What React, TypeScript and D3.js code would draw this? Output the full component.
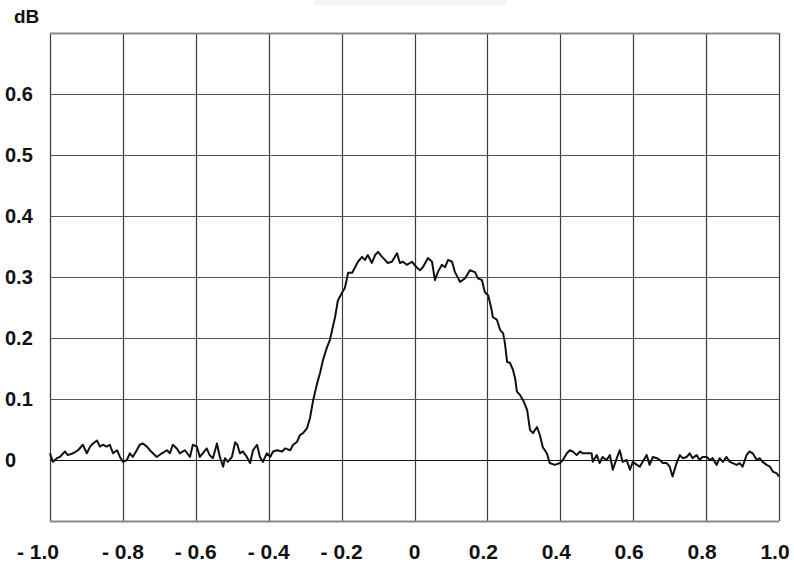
import React from "react";
import * as d3 from "d3";

// Normalised position along the scan (-1 … 1)
const positions = [
  -1.0, -0.992, -0.981, -0.973, -0.959, -0.951, -0.937, -0.923, -0.91, -0.899,
  -0.89, -0.882, -0.871, -0.863, -0.855, -0.844, -0.836, -0.827, -0.816, -0.808,
  -0.8, -0.789, -0.781, -0.773, -0.762, -0.754, -0.745, -0.734, -0.726, -0.707,
  -0.693, -0.679, -0.671, -0.663, -0.652, -0.644, -0.63, -0.616, -0.608, -0.597,
  -0.589, -0.581, -0.57, -0.562, -0.553, -0.542, -0.534, -0.525, -0.52, -0.512,
  -0.501, -0.492, -0.486, -0.479, -0.471, -0.46, -0.451, -0.443, -0.432, -0.424,
  -0.416, -0.405, -0.396, -0.388, -0.377, -0.363, -0.355, -0.341, -0.333, -0.322,
  -0.314, -0.306, -0.295, -0.287, -0.278, -0.267, -0.259, -0.251, -0.24, -0.232,
  -0.226, -0.218, -0.21, -0.199, -0.191, -0.182, -0.171, -0.163, -0.155, -0.144,
  -0.136, -0.128, -0.117, -0.108, -0.1, -0.089, -0.081, -0.073, -0.062, -0.048,
  -0.04, -0.032, -0.021, -0.007, 0.007, 0.015, 0.023, 0.037, 0.048, 0.056,
  0.064, 0.075, 0.084, 0.092, 0.103, 0.111, 0.125, 0.139, 0.152, 0.166,
  0.174, 0.185, 0.193, 0.202, 0.21, 0.215, 0.226, 0.235, 0.243, 0.248,
  0.254, 0.262, 0.27, 0.276, 0.281, 0.289, 0.298, 0.309, 0.317, 0.325,
  0.336, 0.344, 0.352, 0.363, 0.371, 0.385, 0.399, 0.407, 0.418, 0.426,
  0.434, 0.445, 0.454, 0.462, 0.475, 0.486, 0.489, 0.5, 0.508, 0.516,
  0.527, 0.536, 0.544, 0.555, 0.563, 0.571, 0.582, 0.591, 0.599, 0.61,
  0.618, 0.626, 0.637, 0.645, 0.654, 0.665, 0.673, 0.681, 0.692, 0.7,
  0.708, 0.719, 0.728, 0.736, 0.747, 0.755, 0.763, 0.774, 0.782, 0.79,
  0.802, 0.81, 0.818, 0.829, 0.837, 0.846, 0.856, 0.865, 0.873, 0.884,
  0.892, 0.9, 0.911, 0.919, 0.928, 0.939, 0.947, 0.955, 0.966, 0.975,
  0.983, 0.994, 1.0,
];

// Measured level in dB at each position
const levels = [
  0.011, -0.003, 0.003, 0.005, 0.014, 0.008, 0.011, 0.016, 0.025, 0.011,
  0.022, 0.027, 0.032, 0.022, 0.025, 0.022, 0.025, 0.011, 0.016, 0.005,
  -0.003, 0.0, 0.011, 0.005, 0.016, 0.025, 0.027, 0.022, 0.016, 0.005,
  0.011, 0.016, 0.011, 0.025, 0.019, 0.011, 0.016, 0.005, 0.025, 0.022,
  0.005, 0.011, 0.019, 0.008, 0.003, 0.027, 0.005, -0.011, 0.003, -0.003,
  0.005, 0.029, 0.025, 0.011, 0.014, 0.005, -0.005, 0.016, 0.025, 0.005,
  -0.003, 0.011, 0.005, 0.014, 0.016, 0.014, 0.019, 0.016, 0.025, 0.03,
  0.041, 0.044, 0.052, 0.068, 0.098, 0.126, 0.143, 0.164, 0.185, 0.197,
  0.213, 0.234, 0.262, 0.274, 0.282, 0.307, 0.307, 0.316, 0.325, 0.333,
  0.328, 0.336, 0.323, 0.336, 0.341, 0.333, 0.328, 0.323, 0.325, 0.339,
  0.323, 0.325, 0.32, 0.325, 0.315, 0.311, 0.316, 0.331, 0.325, 0.295,
  0.308, 0.32, 0.316, 0.328, 0.325, 0.308, 0.292, 0.298, 0.311, 0.308,
  0.298, 0.295, 0.275, 0.27, 0.251, 0.234, 0.23, 0.213, 0.208, 0.192,
  0.161, 0.159, 0.148, 0.134, 0.112, 0.107, 0.098, 0.082, 0.049, 0.044,
  0.054, 0.041, 0.021, 0.011, -0.005, -0.008, -0.005, 0.0, 0.011, 0.016,
  0.014, 0.008, 0.014, 0.011, 0.011, 0.011, -0.003, 0.008, -0.005, 0.005,
  0.0, 0.008, -0.016, 0.003, 0.016, -0.003, 0.0, -0.016, -0.003, -0.008,
  -0.011, -0.003, 0.008, -0.008, 0.005, 0.003, 0.0, -0.005, -0.005, -0.011,
  -0.027, -0.005, 0.008, 0.003, 0.005, 0.011, 0.003, 0.008, 0.0, 0.005,
  0.005, 0.0, 0.003, -0.008, 0.003, -0.003, 0.005, -0.003, -0.005, -0.008,
  -0.005, -0.011, 0.008, 0.014, 0.011, 0.0, 0.003, -0.003, -0.008, -0.011,
  -0.019, -0.022, -0.027,
];

const xTicks = [-1.0, -0.8, -0.6, -0.4, -0.2, 0, 0.2, 0.4, 0.6, 0.8, 1.0];
const yTicks = [0, 0.1, 0.2, 0.3, 0.4, 0.5, 0.6];
const yUnit = "dB";

const W = 794;
const H = 570;
const left = 50;
const right = 779;
const top = 33;
const bottom = 521;

const FONT = "'Liberation Sans', Arial, Helvetica, sans-serif";

function fmtX(v: number) {
  if (v === 0) return "0";
  const s = Math.abs(v).toFixed(1);
  return v < 0 ? `- ${s}` : s;
}

export default function App() {
  const x = d3.scaleLinear().domain([-1, 1]).range([left, right]);
  const y = d3.scaleLinear().domain([-0.1, 0.7]).range([bottom, top]);

  const points = positions.map((p, i) => [p, levels[i]] as [number, number]);
  const line = d3
    .line<[number, number]>()
    .x((d) => x(d[0]))
    .y((d) => y(d[1]));

  const gridColor = "#3a3a3a";

  return (
    <svg
      width={W}
      height={H}
      viewBox={`0 0 ${W} ${H}`}
      style={{ position: "absolute", left: 0, top: 0, background: "#fff" }}
    >
      <rect x={0} y={0} width={W} height={H} fill="#fff" />
      <rect x={314} y={0} width={192} height={5} fill="#f4f4f4" />

      {/* vertical grid */}
      {xTicks.map((t) => (
        <line
          key={`vx${t}`}
          x1={Math.round(x(t)) + 0.5}
          x2={Math.round(x(t)) + 0.5}
          y1={top}
          y2={bottom}
          stroke={gridColor}
          strokeWidth={1.2}
        />
      ))}
      {/* horizontal grid */}
      {yTicks.map((t) => (
        <line
          key={`hy${t}`}
          x1={left}
          x2={right}
          y1={Math.round(y(t)) + 0.5}
          y2={Math.round(y(t)) + 0.5}
          stroke={t === 0 ? "#111" : "#555"}
          strokeWidth={1.2}
        />
      ))}
      {/* frame top / bottom */}
      <line x1={left} x2={right} y1={top + 0.5} y2={top + 0.5} stroke="#888" strokeWidth={2} />
      <line x1={left} x2={right} y1={bottom + 0.5} y2={bottom + 0.5} stroke="#888" strokeWidth={2} />

      {/* measured curve */}
      <path
        d={line(points) ?? ""}
        fill="none"
        stroke="#111"
        strokeWidth={2}
        strokeLinejoin="round"
      />

      {/* y labels */}
      {yTicks.map((t) => (
        <text
          key={`ly${t}`}
          x={5}
          y={y(t) + 7}
          fontFamily={FONT}
          fontWeight="bold"
          fontSize={20}
          fill="#111"
        >
          {t === 0 ? "0" : t.toFixed(1)}
        </text>
      ))}
      <text x={14} y={22.5} fontFamily={FONT} fontWeight="bold" fontSize={19} fill="#111">
        {yUnit}
      </text>

      {/* x labels */}
      {xTicks.map((t, i) => (
        <text
          key={`lx${t}`}
          x={i === 0 ? 17 : x(t) - (t > 0 ? 4 : 0)}
          y={559}
          textAnchor={i === 0 ? "start" : "middle"}
          fontFamily={FONT}
          fontWeight="bold"
          fontSize={21}
          fill="#111"
        >
          {fmtX(t)}
        </text>
      ))}
    </svg>
  );
}
